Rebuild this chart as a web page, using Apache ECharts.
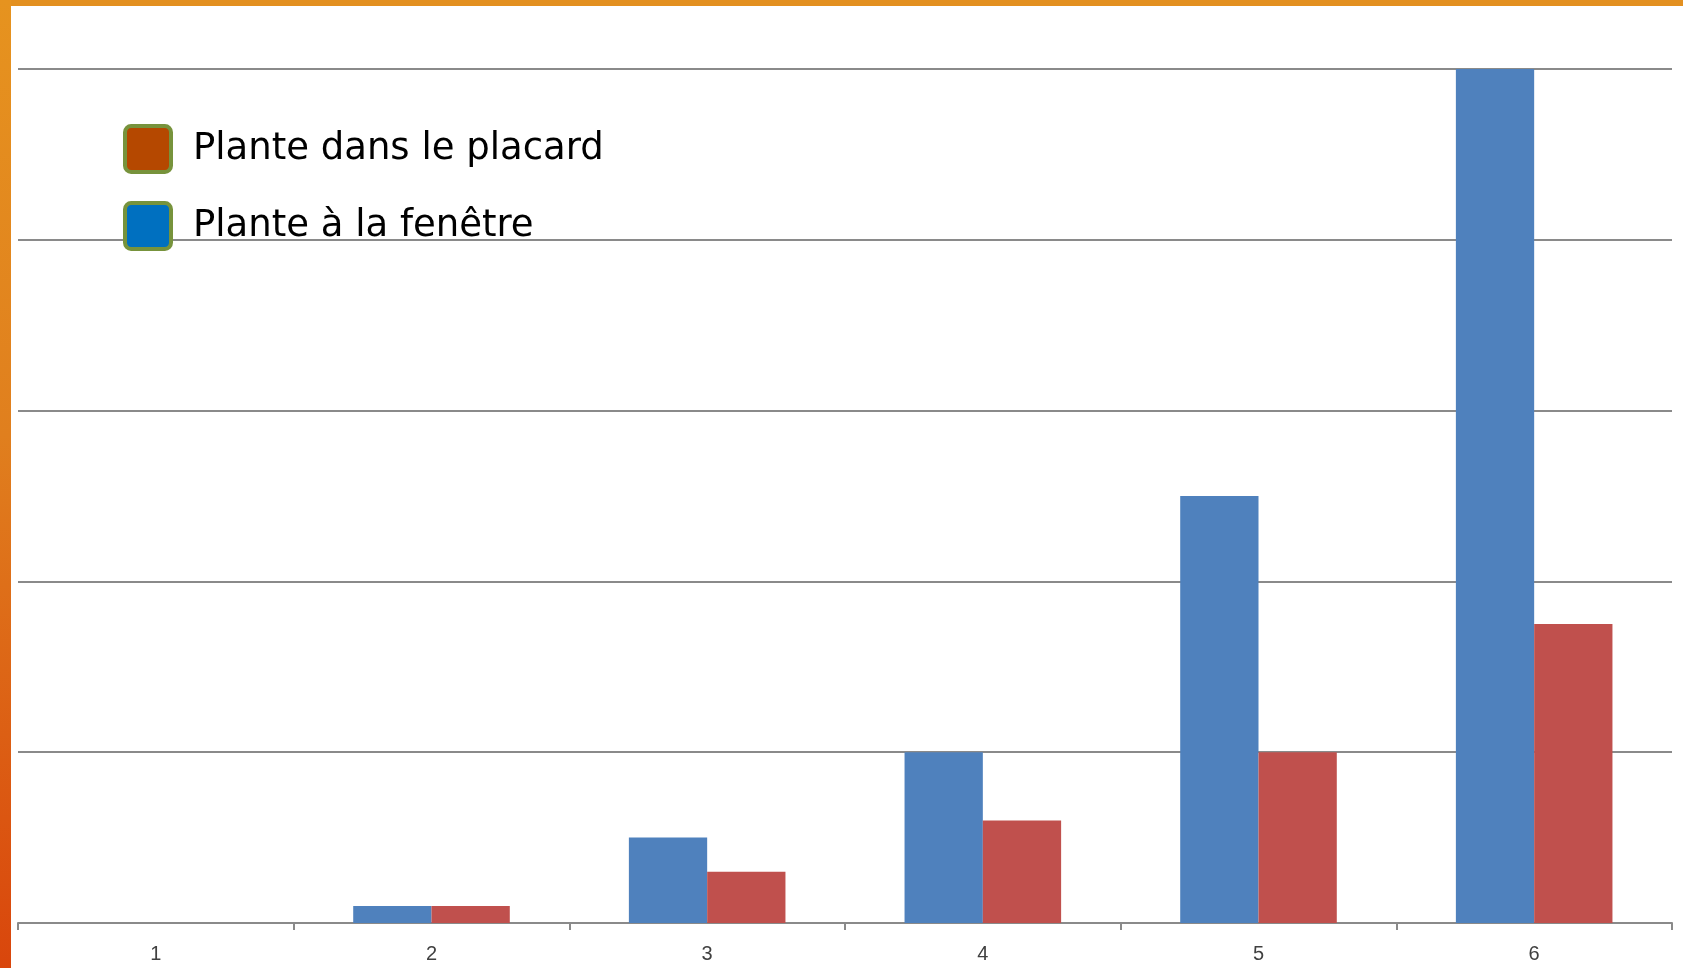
<!DOCTYPE html>
<html>
<head>
<meta charset="utf-8">
<title>Croissance des plantes</title>
<script src="https://cdn.jsdelivr.net/npm/echarts@6/dist/echarts.min.js"></script>
<style>
  html, body { margin: 0; padding: 0; background: #ffffff; }
  #chart { width: 1683px; height: 968px; }
</style>
</head>
<body>
<div id="chart"></div>
<script>
// Semaines de mesure
const categories = ['1', '2', '3', '4', '5', '6'];
// Croissance de la plante placée à la fenêtre
const fenetre = [0, 0.1, 0.5, 1, 2.5, 5];
// Croissance de la plante enfermée dans le placard
const placard = [0, 0.1, 0.3, 0.6, 1, 1.75];
const nomFenetre = 'Plante à la fenêtre';
const nomPlacard = 'Plante dans le placard';

const chart = echarts.init(document.getElementById('chart'), null, { renderer: 'canvas' });

// Carré arrondi des repères de légende
const roundSquare = 'path://M6,0H39A6,6 0 0 1 45,6V39A6,6 0 0 1 39,45H6A6,6 0 0 1 0,39V6A6,6 0 0 1 6,0Z';

const gridLine = '#8a8a8a';

chart.setOption({
  animation: false,
  backgroundColor: '#ffffff',
  graphic: [
    {
      type: 'rect',
      left: 0, top: 0,
      shape: { width: 1683, height: 6 },
      style: { fill: '#e39020' },
      z: 10
    },
    {
      type: 'rect',
      left: 0, top: 0,
      shape: { width: 11, height: 968 },
      style: {
        fill: new echarts.graphic.LinearGradient(0, 0, 0, 1, [
          { offset: 0, color: '#e6931f' },
          { offset: 0.45, color: '#e07f1e' },
          { offset: 1, color: '#d9460c' }
        ])
      },
      z: 10
    }
  ],
  legend: {
    orient: 'vertical',
    left: 118,
    top: 114,
    itemWidth: 46,
    itemHeight: 46,
    itemGap: 17,
    selectedMode: false,
    icon: roundSquare,
    textStyle: {
      fontFamily: 'DejaVu Sans',
      fontSize: 37,
      lineHeight: 40,
      color: '#000000',
      padding: [0, 0, 20, 17]
    },
    data: [
      {
        name: nomPlacard,
        itemStyle: { color: '#b54800', borderColor: '#77933c', borderWidth: 4 }
      },
      {
        name: nomFenetre,
        itemStyle: { color: '#0070c0', borderColor: '#77933c', borderWidth: 4 }
      }
    ]
  },
  grid: {
    left: 18,
    right: 11,
    top: 69,
    bottom: 45,
    containLabel: false
  },
  xAxis: {
    type: 'category',
    data: categories,
    axisLine: { lineStyle: { color: gridLine, width: 2 } },
    axisTick: { show: true, length: 7, lineStyle: { color: gridLine, width: 2 } },
    axisLabel: {
      fontFamily: 'Liberation Sans',
      fontSize: 20,
      color: '#404040',
      margin: 21
    }
  },
  yAxis: {
    type: 'value',
    min: 0,
    max: 5,
    interval: 1,
    axisLine: { show: false },
    axisTick: { show: false },
    axisLabel: { show: false },
    splitLine: { lineStyle: { color: gridLine, width: 2 } }
  },
  series: [
    {
      name: nomFenetre,
      type: 'bar',
      data: fenetre,
      barWidth: '28.4%',
      barGap: '0%',
      itemStyle: { color: '#4f81bd' }
    },
    {
      name: nomPlacard,
      type: 'bar',
      data: placard,
      barWidth: '28.4%',
      barGap: '0%',
      itemStyle: { color: '#c0504d' }
    }
  ]
});
</script>
</body>
</html>
